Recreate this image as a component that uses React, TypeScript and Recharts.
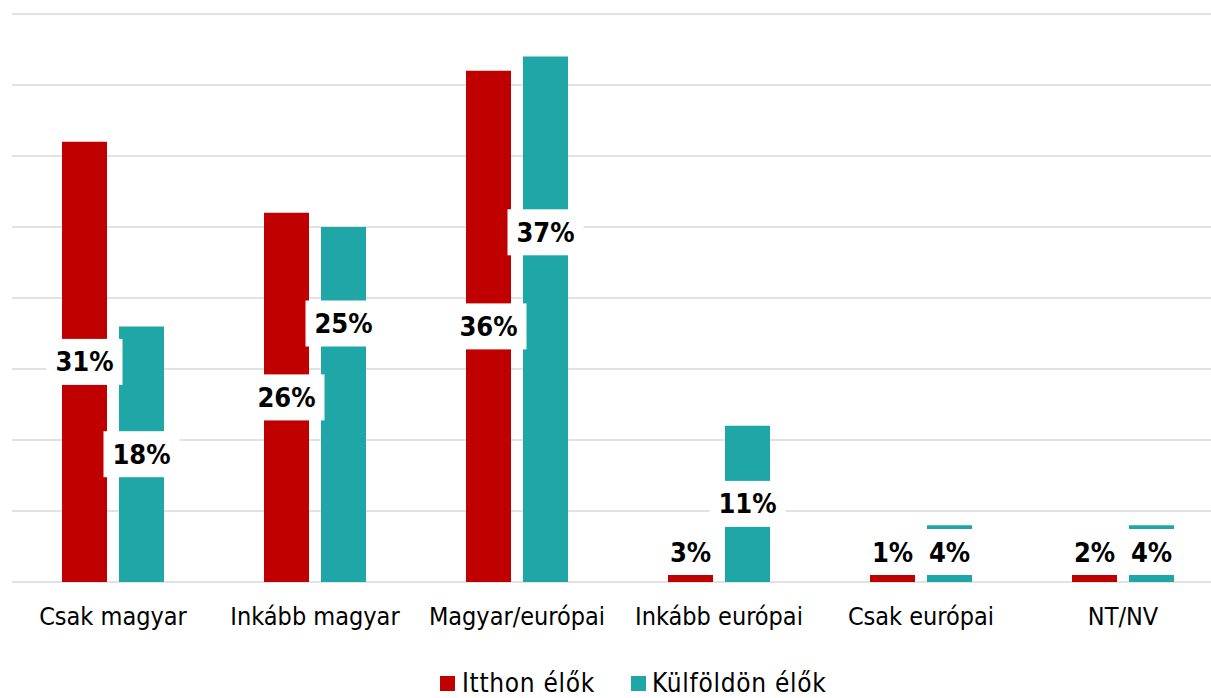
import React from 'react';
import {
  BarChart,
  Bar,
  XAxis,
  YAxis,
  CartesianGrid,
  Legend,
  LabelList,
} from 'recharts';

// Identitás kérdés - itthon és külföldön élők
const categories = [
  'Csak magyar',
  'Inkább magyar',
  'Magyar/európai',
  'Inkább európai',
  'Csak európai',
  'NT/NV',
];
const itthonValues = [31, 26, 36, 3, 1, 2];
const kulfoldValues = [18, 25, 37, 11, 4, 4];
const yTicks = [0, 5, 10, 15, 20, 25, 30, 35, 40];

const seriesNames = { itthon: 'Itthon élők', kulfold: 'Külföldön élők' };

const RED = '#C00000';
const TEAL = '#1FA7A7';
const FONT = "'DejaVu Sans Condensed', 'DejaVu Sans', sans-serif";

// labels that were moved by hand in the original so they don't collide
const labelNudge: Record<string, number[]> = {
  itthon: [0, 0, 0, 0, 0, 0],
  kulfold: [0, -81, -87, 0, 0, 0],
};

const chartData = categories.map((name, i) => ({
  name,
  itthon: itthonValues[i],
  kulfold: kulfoldValues[i],
}));

const makeLabel = (key: string) => (props: any) => {
  const { x, y, width, height, value, index } = props;
  const boxH = 46;
  const text = `${value}%`;
  const boxW = text.length > 2 ? 76 : 60;
  // keep small bars' labels above the axis, like Excel does
  let cy = Math.min(y + height / 2, y + height - 30);
  cy += labelNudge[key][index] || 0;
  const cx = x + width / 2;
  return (
    <g>
      <rect x={cx - boxW / 2} y={cy - boxH / 2} width={boxW} height={boxH} fill="#fff" />
      <text
        x={cx}
        y={cy}
        textAnchor="middle"
        dominantBaseline="central"
        fontFamily={FONT}
        fontWeight="bold"
        fontSize={27}
        fill="#000"
      >
        {text}
      </text>
    </g>
  );
};

const LegendContent = () => (
  <div
    style={{
      display: 'flex',
      alignItems: 'center',
      height: 26,
      lineHeight: '26px',
      fontFamily: FONT,
      fontSize: 26,
      letterSpacing: 0.7,
      color: '#000',
      whiteSpace: 'nowrap',
    }}
  >
    <span style={{ width: 15, height: 15, background: RED, marginRight: 7 }} />
    <span>{seriesNames.itthon}</span>
    <span style={{ width: 15, height: 15, background: TEAL, marginLeft: 36, marginRight: 6 }} />
    <span>{seriesNames.kulfold}</span>
  </div>
);

export default function App() {
  return (
    <div
      style={{
        position: 'absolute',
        left: 0,
        top: 0,
        width: 1211,
        height: 698,
        overflow: 'hidden',
        background: '#fff',
      }}
    >
      <BarChart
        width={1224}
        height={698}
        data={chartData}
        margin={{ top: 14, right: 0, bottom: 40, left: 12 }}
        barSize={45}
        barGap={12}
        barCategoryGap={0}
      >
        <CartesianGrid vertical={false} stroke="#d9d9d9" strokeWidth={1.5} />
        <XAxis
          dataKey="name"
          axisLine={false}
          tickLine={false}
          height={50}
          tickMargin={19}
          interval={0}
          tick={{ fill: '#000', fontSize: 25, fontFamily: FONT }}
        />
        <YAxis hide domain={[0, 40]} ticks={yTicks} />
        <Legend
          verticalAlign="bottom"
          content={<LegendContent />}
          wrapperStyle={{ top: 670, left: 440, width: 420, height: 26 }}
        />
        <Bar dataKey="itthon" name={seriesNames.itthon} fill={RED} isAnimationActive={false}>
          <LabelList dataKey="itthon" content={makeLabel('itthon')} />
        </Bar>
        <Bar dataKey="kulfold" name={seriesNames.kulfold} fill={TEAL} isAnimationActive={false}>
          <LabelList dataKey="kulfold" content={makeLabel('kulfold')} />
        </Bar>
      </BarChart>
    </div>
  );
}
